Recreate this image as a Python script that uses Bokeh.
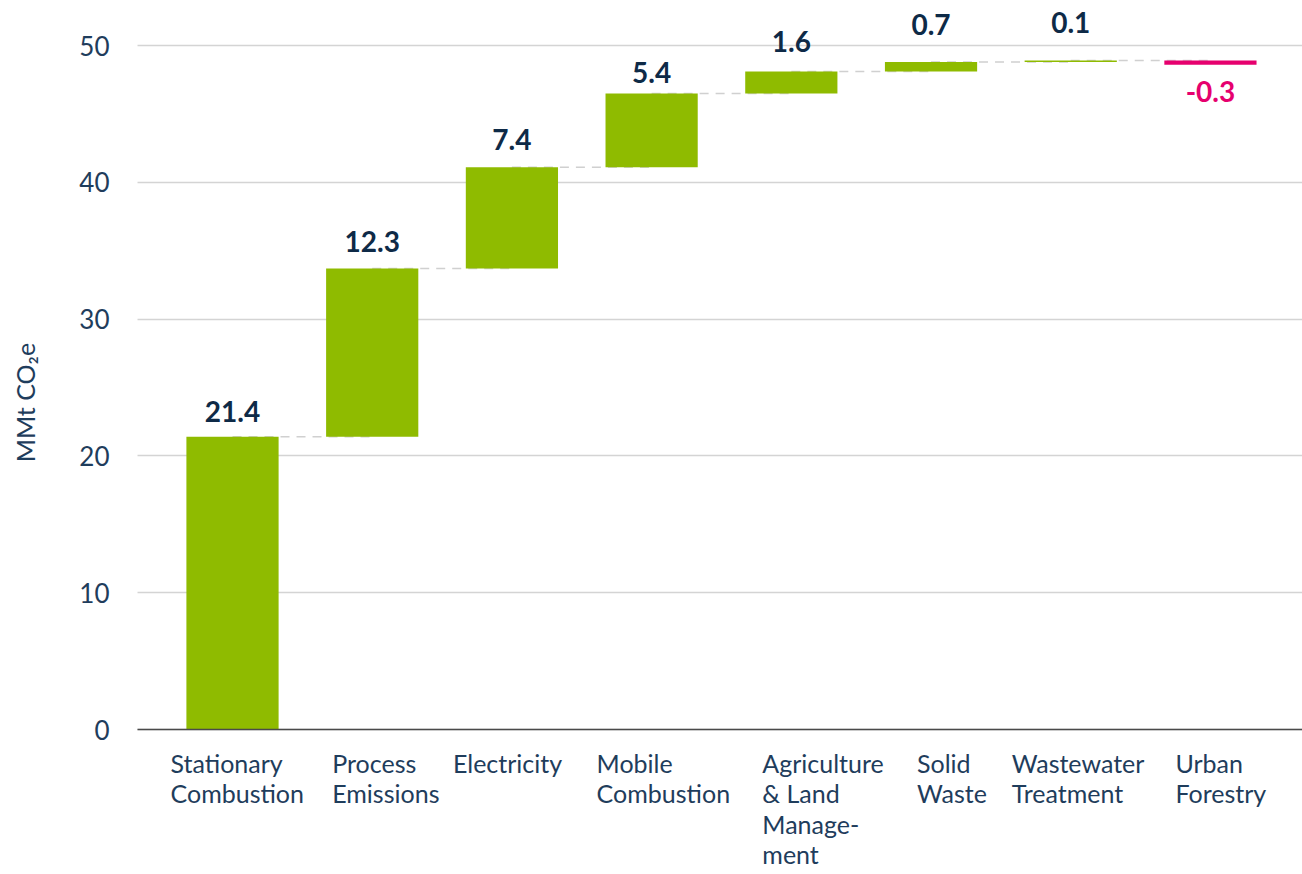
import math
from bokeh.plotting import figure
from bokeh.models import ColumnDataSource, FixedTicker, Range1d, Grid
from bokeh.core.properties import value
from bokeh.embed import file_html
from bokeh.resources import INLINE

# ---- data ----
categories = [
    "Stationary\nCombustion",
    "Process\nEmissions",
    "Electricity",
    "Mobile\nCombustion",
    "Agriculture\n& Land\nManage-\nment",
    "Solid\nWaste",
    "Wastewater\nTreatment",
    "Urban\nForestry",
]
values = [21.4, 12.3, 7.4, 5.4, 1.6, 0.7, 0.1, -0.3]
y_ticks = [0, 10, 20, 30, 40, 50]
y_title = "MMt CO₂e"

# ---- layout / style ----
cat_label_dx = [-62, -40, -59, -55, -29, -14, -59, -35]   # px, label left edge vs bar centre
value_label_dy = [-25, -27, -28, -21, -30, -37, -38, 27]  # px (down +), baseline vs bar end
PLOT_LEFT = -0.68          # x where the plotting area (grid, baseline) starts
X_START, X_END = -1.6607, 7.659
Y_START, Y_END = -10.45, 53.29
GREEN = "#8FBB00"
PINK = "#E6006E"
NAVY = "#0E2A47"
TEXT = "#1F3D5C"
FONT = "Lato"

xs = list(range(len(values)))
ends = []
run = 0.0
for v in values:
    run = round(run + v, 6)
    ends.append(run)
starts = [round(e - v, 6) for e, v in zip(ends, values)]
bottoms = [min(s, e) for s, e in zip(starts, ends)]
tops = [max(s, e) for s, e in zip(starts, ends)]
colors = [GREEN if v >= 0 else PINK for v in values]
label_y = [t if v >= 0 else b for v, t, b in zip(values, tops, bottoms)]
label_txt = [f"{v:.1f}" for v in values]
label_col = [NAVY if v >= 0 else PINK for v in values]

bars = ColumnDataSource(dict(x=xs, bottom=bottoms, top=tops, fill=colors))
vals = ColumnDataSource(dict(x=xs, y=label_y, text=label_txt, tcol=label_col, dy=value_label_dy))
cats = ColumnDataSource(dict(x=xs, y=[0] * len(xs), text=categories, dx=cat_label_dx))

p = figure(
    width=1302, height=872,
    x_range=Range1d(X_START, X_END), y_range=Range1d(Y_START, Y_END),
    output_backend="svg", toolbar_location=None,
    min_border_left=0, min_border_right=0, min_border_top=0, min_border_bottom=0,
)
p.outline_line_color = None
p.background_fill_color = "white"
p.border_fill_color = "white"

# grid
p.xgrid.visible = False
p.ygrid.ticker = FixedTicker(ticks=y_ticks)
p.ygrid.grid_line_color = "#D4D4D4"
p.ygrid.grid_line_width = 1.5
if "cross_bounds" in Grid.properties():
    p.ygrid.cross_bounds = (PLOT_LEFT, X_END)

# y axis, fixed at the left edge of the plotting area
p.yaxis.fixed_location = PLOT_LEFT
p.yaxis.ticker = FixedTicker(ticks=y_ticks)
p.yaxis.bounds = (0, 50)
p.yaxis.axis_line_color = None
p.yaxis.major_tick_line_color = None
p.yaxis.minor_tick_line_color = None
p.yaxis.major_label_text_font = FONT
p.yaxis.major_label_text_font_size = "26px"
p.yaxis.major_label_text_color = TEXT
p.yaxis.major_label_standoff = 22

# x axis: baseline at zero
p.xaxis.fixed_location = 0
p.xaxis.bounds = (PLOT_LEFT, X_END)
p.xaxis.ticker = FixedTicker(ticks=[])
p.xaxis.major_tick_line_color = None
p.xaxis.minor_tick_line_color = None
p.xaxis.axis_line_color = "#4A4A4A"
p.xaxis.axis_line_width = 1.5

# connectors
for i in range(len(values) - 1):
    p.line([xs[i], xs[i + 1]], [ends[i], ends[i]], line_color="#D0D0D0",
           line_width=1.5, line_dash="9 7")

# bars
p.vbar(x="x", bottom="bottom", top="top", width=0.66, fill_color="fill",
       line_color=None, source=bars)

# value labels
p.text(x="x", y="y", text="text", source=vals, y_offset="dy",
       text_align="center", text_baseline="alphabetic",
       text_font=value(FONT), text_font_style="bold",
       text_font_size="28px", text_color="tcol")

# category labels
p.text(x="x", y="y", text="text", source=cats, x_offset="dx", y_offset=18,
       text_align="left", text_baseline="top",
       text_font=value(FONT), text_font_size="25px", text_color=TEXT,
       text_line_height=1.02)

# y-axis title
p.text(x=[PLOT_LEFT], y=[23.9], text=[y_title], x_offset=-113, angle=math.pi / 2,
       text_align="center", text_baseline="middle",
       text_font=value(FONT), text_font_size="25px", text_color=TEXT)

open("out.html", "w").write(file_html(p, INLINE))
